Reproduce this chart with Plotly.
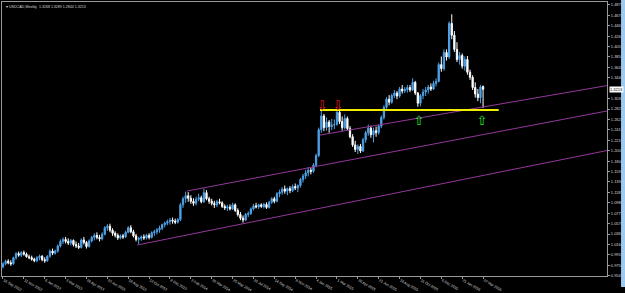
import plotly.graph_objects as go

# ---------------- data (weekly USDCAD candles) ----------------
opens = [0.972, 0.978, 0.983, 0.980, 0.978, 0.990, 0.998, 0.995, 1.000, 0.997,
         0.992, 0.990, 0.987, 0.984, 0.990, 0.993, 0.986, 0.984, 0.993, 1.003,
         0.999, 1.003, 1.013, 1.022, 1.026, 1.022, 1.019, 1.024, 1.016, 1.013,
         1.010, 1.025, 1.020, 1.012, 1.023, 1.030, 1.034, 1.030, 1.027, 1.036,
         1.049, 1.052, 1.044, 1.038, 1.034, 1.029, 1.033, 1.031, 1.040, 1.049,
         1.041, 1.033, 1.026, 1.028, 1.031, 1.029, 1.034, 1.030, 1.039, 1.041,
         1.045, 1.048, 1.055, 1.058, 1.061, 1.064, 1.062, 1.060, 1.065, 1.094,
         1.106, 1.112, 1.107, 1.101, 1.097, 1.105, 1.108, 1.100, 1.118, 1.106,
         1.101, 1.097, 1.094, 1.100, 1.098, 1.091, 1.088, 1.090, 1.086, 1.094,
         1.083, 1.075, 1.068, 1.064, 1.075, 1.077, 1.086, 1.092, 1.090, 1.094,
         1.091, 1.095, 1.089, 1.099, 1.106, 1.101, 1.116, 1.119, 1.125, 1.121,
         1.126, 1.122, 1.130, 1.127, 1.132, 1.144, 1.151, 1.157, 1.162, 1.160,
         1.172, 1.191, 1.242, 1.269, 1.246, 1.257, 1.248, 1.251, 1.252, 1.276,
         1.258, 1.246, 1.264, 1.244, 1.228, 1.212, 1.203, 1.209, 1.200, 1.222,
         1.236, 1.245, 1.232, 1.240, 1.236, 1.249, 1.266, 1.286, 1.302, 1.296,
         1.309, 1.314, 1.308, 1.322, 1.318, 1.321, 1.325, 1.320, 1.335, 1.314,
         1.294, 1.309, 1.316, 1.320, 1.326, 1.322, 1.333, 1.337, 1.370, 1.362,
         1.394, 1.385, 1.451, 1.428, 1.400, 1.380, 1.388, 1.367, 1.380, 1.355,
         1.345, 1.325, 1.312, 1.305, 1.3268]
highs = [0.981, 0.986, 0.987, 0.985, 0.992, 1.001, 1.002, 1.003, 1.004, 1.000,
         0.996, 0.994, 0.990, 0.993, 0.996, 0.995, 0.991, 0.995, 1.006, 1.008,
         1.006, 1.016, 1.026, 1.030, 1.031, 1.028, 1.027, 1.026, 1.022, 1.019,
         1.028, 1.031, 1.023, 1.026, 1.033, 1.038, 1.040, 1.035, 1.040, 1.052,
         1.056, 1.057, 1.048, 1.042, 1.038, 1.036, 1.037, 1.043, 1.052, 1.054,
         1.045, 1.037, 1.031, 1.034, 1.036, 1.037, 1.038, 1.042, 1.045, 1.048,
         1.053, 1.057, 1.061, 1.065, 1.068, 1.069, 1.067, 1.068, 1.098, 1.110,
         1.120, 1.119, 1.113, 1.107, 1.110, 1.116, 1.112, 1.126, 1.123, 1.110,
         1.106, 1.102, 1.104, 1.106, 1.101, 1.095, 1.094, 1.095, 1.098, 1.097,
         1.087, 1.080, 1.073, 1.078, 1.081, 1.089, 1.096, 1.098, 1.096, 1.097,
         1.098, 1.099, 1.102, 1.109, 1.110, 1.119, 1.124, 1.129, 1.132, 1.128,
         1.131, 1.134, 1.136, 1.134, 1.147, 1.155, 1.163, 1.168, 1.167, 1.176,
         1.195, 1.246, 1.280, 1.273, 1.266, 1.261, 1.263, 1.262, 1.281, 1.279,
         1.268, 1.272, 1.268, 1.249, 1.233, 1.220, 1.213, 1.214, 1.226, 1.240,
         1.252, 1.250, 1.246, 1.248, 1.252, 1.270, 1.290, 1.306, 1.310, 1.313,
         1.320, 1.318, 1.326, 1.330, 1.326, 1.330, 1.330, 1.343, 1.338, 1.316,
         1.312, 1.322, 1.326, 1.330, 1.333, 1.338, 1.343, 1.374, 1.386, 1.400,
         1.400, 1.455, 1.469, 1.436, 1.414, 1.395, 1.392, 1.386, 1.387, 1.360,
         1.349, 1.335, 1.322, 1.330, 1.3289]
lows = [0.969, 0.975, 0.977, 0.974, 0.976, 0.986, 0.992, 0.991, 0.994, 0.990,
        0.987, 0.984, 0.981, 0.981, 0.985, 0.983, 0.980, 0.982, 0.990, 0.995,
        0.996, 1.000, 1.010, 1.017, 1.018, 1.015, 1.014, 1.012, 1.009, 1.007,
        1.008, 1.016, 1.008, 1.010, 1.020, 1.024, 1.026, 1.022, 1.024, 1.034,
        1.043, 1.040, 1.033, 1.030, 1.025, 1.026, 1.027, 1.029, 1.038, 1.038,
        1.030, 1.022, 1.017, 1.023, 1.025, 1.026, 1.026, 1.028, 1.033, 1.036,
        1.039, 1.044, 1.050, 1.054, 1.055, 1.057, 1.056, 1.057, 1.062, 1.088,
        1.098, 1.100, 1.096, 1.092, 1.093, 1.101, 1.097, 1.098, 1.103, 1.096,
        1.093, 1.088, 1.090, 1.095, 1.088, 1.084, 1.082, 1.083, 1.084, 1.080,
        1.071, 1.064, 1.059, 1.062, 1.070, 1.074, 1.083, 1.087, 1.086, 1.088,
        1.087, 1.086, 1.087, 1.096, 1.097, 1.099, 1.109, 1.114, 1.116, 1.113,
        1.117, 1.119, 1.123, 1.119, 1.128, 1.138, 1.145, 1.150, 1.154, 1.157,
        1.168, 1.188, 1.236, 1.239, 1.240, 1.236, 1.241, 1.243, 1.250, 1.253,
        1.240, 1.242, 1.240, 1.225, 1.208, 1.198, 1.194, 1.196, 1.198, 1.216,
        1.230, 1.226, 1.217, 1.228, 1.232, 1.245, 1.262, 1.283, 1.290, 1.293,
        1.304, 1.302, 1.305, 1.313, 1.314, 1.315, 1.316, 1.318, 1.310, 1.287,
        1.288, 1.302, 1.308, 1.313, 1.318, 1.320, 1.327, 1.335, 1.356, 1.358,
        1.378, 1.381, 1.420, 1.395, 1.375, 1.370, 1.362, 1.358, 1.350, 1.340,
        1.320, 1.305, 1.298, 1.294, 1.2844]
closes = [0.978, 0.983, 0.980, 0.978, 0.990, 0.998, 0.995, 1.000, 0.997, 0.992,
          0.990, 0.987, 0.984, 0.990, 0.993, 0.986, 0.984, 0.993, 1.003, 0.999,
          1.003, 1.013, 1.022, 1.026, 1.022, 1.019, 1.024, 1.016, 1.013, 1.010,
          1.025, 1.020, 1.012, 1.023, 1.030, 1.034, 1.030, 1.027, 1.036, 1.049,
          1.052, 1.044, 1.038, 1.034, 1.029, 1.033, 1.031, 1.040, 1.049, 1.041,
          1.033, 1.026, 1.028, 1.031, 1.029, 1.034, 1.030, 1.039, 1.041, 1.045,
          1.048, 1.055, 1.058, 1.061, 1.064, 1.062, 1.060, 1.065, 1.094, 1.106,
          1.112, 1.107, 1.101, 1.097, 1.105, 1.108, 1.100, 1.118, 1.106, 1.101,
          1.097, 1.094, 1.100, 1.098, 1.091, 1.088, 1.090, 1.086, 1.094, 1.083,
          1.075, 1.068, 1.064, 1.075, 1.077, 1.086, 1.092, 1.090, 1.094, 1.091,
          1.095, 1.089, 1.099, 1.106, 1.101, 1.116, 1.119, 1.125, 1.121, 1.126,
          1.122, 1.130, 1.127, 1.132, 1.144, 1.151, 1.157, 1.162, 1.160, 1.172,
          1.191, 1.242, 1.269, 1.246, 1.257, 1.248, 1.251, 1.252, 1.276, 1.258,
          1.246, 1.264, 1.244, 1.228, 1.212, 1.203, 1.209, 1.200, 1.222, 1.236,
          1.245, 1.232, 1.240, 1.236, 1.249, 1.266, 1.286, 1.302, 1.296, 1.309,
          1.314, 1.308, 1.322, 1.318, 1.321, 1.325, 1.320, 1.335, 1.314, 1.294,
          1.309, 1.316, 1.320, 1.326, 1.322, 1.333, 1.337, 1.370, 1.362, 1.394,
          1.385, 1.451, 1.428, 1.400, 1.380, 1.388, 1.367, 1.380, 1.355, 1.345,
          1.325, 1.312, 1.305, 1.326, 1.3213]

# x axis: bar index of each weekly candle and the date labels
date_tick_bars = [0, 8, 16, 24, 32, 40, 48, 56, 64, 72, 80, 88, 96, 104, 112,
                  120, 128, 136, 144, 152, 160, 168, 176, 184]
date_tick_labels = ["16 Sep 2012", "11 Nov 2012", "6 Jan 2013", "3 Mar 2013",
                    "28 Apr 2013", "23 Jun 2013", "18 Aug 2013", "13 Oct 2013",
                    "8 Dec 2013", "2 Feb 2014", "30 Mar 2014", "25 May 2014",
                    "20 Jul 2014", "14 Sep 2014", "9 Nov 2014", "4 Jan 2015",
                    "1 Mar 2015", "26 Apr 2015", "21 Jun 2015", "16 Aug 2015",
                    "11 Oct 2015", "6 Dec 2015", "31 Jan 2016", "27 Mar 2016"]

# y axis price grid labels (the one hidden by the current-price box is left out)
price_ticks = [1.4875, 1.4670, 1.4465, 1.4260, 1.4055, 1.3850, 1.3645, 1.3440,
               1.3030, 1.2825, 1.2620, 1.2415, 1.2210, 1.2005, 1.1800, 1.1595,
               1.1390, 1.1185, 1.0980, 1.0775, 1.0570, 1.0365, 1.0160, 0.9955,
               0.9750, 0.9545]

# drawn objects (bar index, price)
support_bars = [121.5, 190.0]
support_prices = [1.2806, 1.2806]
line_a_bars = [121.5, 231.5]
line_a_prices = [1.2313, 1.3287]
line_b_bars = [70.5, 231.5]
line_b_prices = [1.1212, 1.2787]
line_c_bars = [51.4, 231.5]
line_c_prices = [1.0149, 1.2009]
down_arrow_bars = [122.3, 128.4]
down_arrow_prices = [1.2880, 1.2880]
up_arrow_bars = [159.4, 183.6]
up_arrow_prices = [1.2580, 1.2580]

bars = list(range(len(closes)))

# ---------------- figure ----------------
FONT = "Liberation Sans, Arial, sans-serif"
BLUE = "#4ea3ea"
PURPLE = "#93379a"

fig = go.Figure()

for bx, py in [(line_c_bars, line_c_prices), (line_b_bars, line_b_prices),
               (line_a_bars, line_a_prices)]:
    fig.add_trace(go.Scatter(x=bx, y=py, mode="lines",
                             line=dict(color=PURPLE, width=1),
                             hoverinfo="skip", showlegend=False))

fig.add_trace(go.Candlestick(
    x=bars, open=opens, high=highs, low=lows, close=closes,
    increasing=dict(line=dict(color=BLUE, width=1), fillcolor=BLUE),
    decreasing=dict(line=dict(color="#ffffff", width=1), fillcolor="#ffffff"),
    whiskerwidth=0, showlegend=False))

fig.add_trace(go.Scatter(x=support_bars, y=support_prices, mode="lines",
                         line=dict(color="#f2ee00", width=2),
                         hoverinfo="skip", showlegend=False))

fig.add_trace(go.Scatter(x=down_arrow_bars, y=down_arrow_prices, mode="text",
                         text=["⇩"] * len(down_arrow_bars),
                         textfont=dict(color="#e41818", size=13,
                                       family="DejaVu Sans"),
                         hoverinfo="skip", showlegend=False))
fig.add_trace(go.Scatter(x=up_arrow_bars, y=up_arrow_prices, mode="text",
                         text=["⇧"] * len(up_arrow_bars),
                         textfont=dict(color="#28e428", size=13,
                                       family="DejaVu Sans"),
                         hoverinfo="skip", showlegend=False))

title_txt = "▾ USDCAD,Weekly  {:.4f} {:.4f} {:.4f} {:.4f}".format(
    opens[-1], highs[-1], lows[-1], closes[-1])

fig.update_layout(
    width=625, height=293,
    margin=dict(l=2, r=18, t=1, b=8),
    paper_bgcolor="#000000", plot_bgcolor="#000000",
    font=dict(family=FONT, color="#d8d8d8", size=4),
    showlegend=False,
    xaxis=dict(range=[-0.38, 231.5], rangeslider=dict(visible=False),
               tickmode="array", tickvals=date_tick_bars,
               ticktext=date_tick_labels, tickfont=dict(size=3.6),
               ticklabelposition="outside right",
               ticks="outside", ticklen=2, tickcolor="#9a9a9a",
               showgrid=False, zeroline=False,
               showline=True, linecolor="#9a9a9a", linewidth=1, mirror=True,
               fixedrange=True),
    yaxis=dict(range=[0.9540, 1.4932], side="right",
               tickmode="array", tickvals=price_ticks,
               ticktext=["{:.4f}".format(v) for v in price_ticks],
               tickfont=dict(size=4),
               ticks="outside", ticklen=2, tickcolor="#9a9a9a",
               showgrid=False, zeroline=False,
               showline=True, linecolor="#9a9a9a", linewidth=1, mirror=True,
               fixedrange=True),
    annotations=[
        dict(x=0.004, y=0.995, xref="paper", yref="paper", text=title_txt,
             showarrow=False, xanchor="left", yanchor="top",
             font=dict(size=3.6, color="#d8d8d8", family=FONT)),
        dict(x=1.004, y=closes[-1], xref="paper", yref="y",
             text="{:.4f}".format(closes[-1]), showarrow=False,
             xanchor="left", yanchor="middle", bgcolor="#ffffff",
             borderpad=0, font=dict(size=4, color="#000000", family=FONT)),
    ],
    shapes=[
        dict(type="rect", xref="paper", yref="paper",
             x0=1.0232, x1=1.031, y0=-0.04, y1=1.01,
             fillcolor="#9ccbf2", line=dict(width=0), layer="above"),
    ],
)

fig.write_html("out.html")
